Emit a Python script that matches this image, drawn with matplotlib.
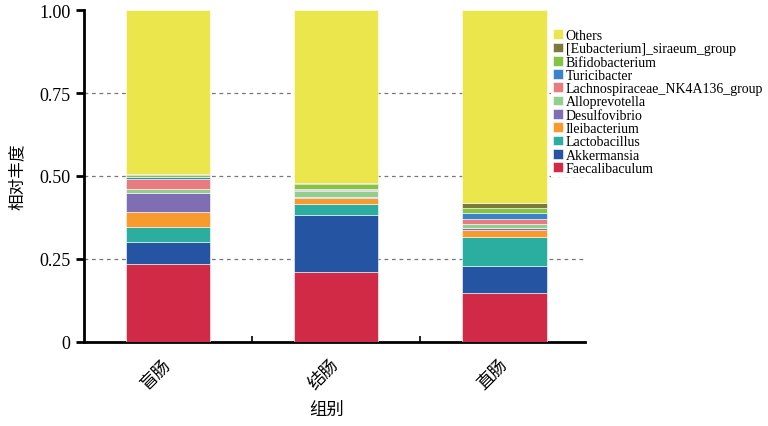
import numpy as np
import matplotlib.pyplot as plt

plt.rcParams['font.family'] = ['Liberation Serif', 'Noto Sans CJK SC', 'DejaVu Sans']

groups = ['盲肠', '结肠', '直肠']
taxa = ['Faecalibaculum', 'Akkermansia', 'Lactobacillus', 'Ileibacterium',
        'Desulfovibrio', 'Alloprevotella', 'Lachnospiraceae_NK4A136_group',
        'Turicibacter', 'Bifidobacterium', '[Eubacterium]_siraeum_group', 'Others']

# relative abundance per group, same order as taxa (Others fills up to 1)
cecum = [0.235, 0.066, 0.046, 0.045, 0.058, 0.011, 0.030, 0.005, 0.006, 0.004]
colon = [0.212, 0.171, 0.032, 0.020, 0.003, 0.017, 0.003, 0.004, 0.014, 0.002]
rectum = [0.147, 0.082, 0.088, 0.020, 0.006, 0.013, 0.014, 0.019, 0.015, 0.014]

colors = ['#D12A47', '#2554A3', '#2BAEA0', '#F89A2E', '#7F6EB3', '#94CE8F',
          '#E77B80', '#3B82C8', '#84C442', '#7B7A3B', '#EAE64C']

data = np.array([cecum, colon, rectum])
others = 1 - data.sum(axis=1)
data = np.column_stack([data, others])

fig = plt.figure(figsize=(7.68, 4.27), dpi=100)
ax = fig.add_axes([0.109, 0.197, 0.653, 0.777])

x = np.arange(len(groups))
bottom = np.zeros(len(groups))
handles = []
for i, name in enumerate(taxa):
    h = ax.bar(x, data[:, i], 0.5, bottom=bottom, color=colors[i],
               edgecolor='white', linewidth=0.4, label=name, zorder=3)
    handles.append(h)
    bottom += data[:, i]

for yv in [0.25, 0.5, 0.75]:
    ax.axhline(yv, color='#777777', linestyle=(0, (3, 3)), linewidth=0.9, zorder=1)

ax.set_xlim(-0.5, 2.48)
ax.set_ylim(0, 1)
ax.set_yticks([0, 0.25, 0.5, 0.75, 1.0])
ax.set_yticklabels(['0', '0.25', '0.50', '0.75', '1.00'], fontsize=13)
ax.set_xticks(x)
ax.set_xticklabels(groups, rotation=45, fontsize=12.5, family=['Noto Sans CJK SC'],
                   ha='right', va='center', rotation_mode='anchor')
ax.tick_params(axis='x', length=0, pad=14)
ax.tick_params(axis='y', length=6, width=2, direction='out')
ax.set_xticks([0.5, 1.5], minor=True)
ax.tick_params(axis='x', which='minor', length=4, width=1.2, direction='in')

for s in ['top', 'right']:
    ax.spines[s].set_visible(False)
ax.spines['left'].set_linewidth(2)
ax.spines['bottom'].set_linewidth(2)

ax.set_ylabel('相对丰度', fontsize=12, family=['Noto Sans CJK SC'])
ax.set_xlabel('组别', fontsize=12.5, family=['Noto Sans CJK SC'])
ax.yaxis.set_label_coords(-0.115, 0.5)
ax.xaxis.set_label_coords(0.485, -0.175)

# white legend box hides the gridlines behind it
leg = ax.legend(handles[::-1], taxa[::-1], loc='upper left', bbox_to_anchor=(0.932, 0.949),
                frameon=True, facecolor='white', edgecolor='none', framealpha=1,
                fancybox=False, fontsize=10, labelspacing=0.02, handlelength=0.7,
                handleheight=0.7, handletextpad=0.2, borderaxespad=0, borderpad=0.15)
leg.set_zorder(5)

fig.savefig('out.png', dpi=100)
